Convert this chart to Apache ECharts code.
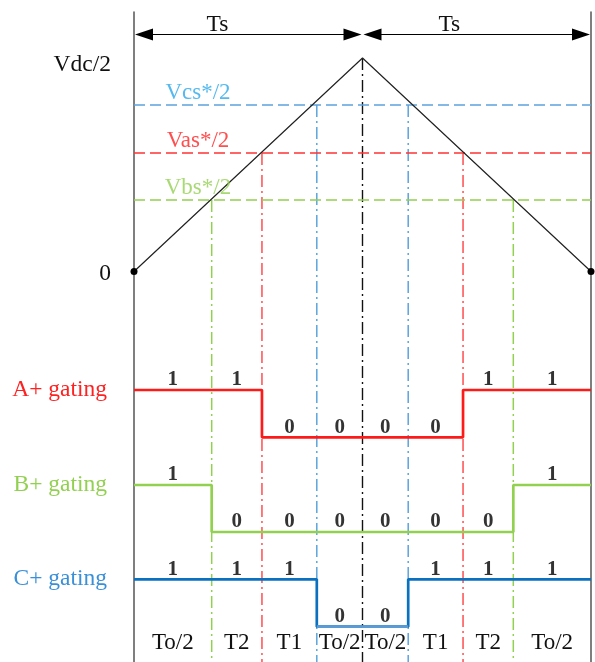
<!DOCTYPE html>
<html>
<head>
<meta charset="utf-8">
<script src="https://cdn.jsdelivr.net/npm/echarts@6/dist/echarts.min.js"></script>
<style>html,body{margin:0;padding:0;background:#fff}#c{width:595px;height:662px}</style>
</head>
<body>
<div id="c"></div>
<script>
// ---- data ----
const triX = [0, 1, 2];                 // carrier triangle time points (units of Ts)
const triY = [0, 1, 0];                 // carrier amplitude (units of Vdc/2)
const refNames = ['Vcs*/2', 'Vas*/2', 'Vbs*/2'];
const refValues = [0.78, 0.555, 0.335];
const crossLeft = [0.80, 0.56, 0.34];   // C, A, B crossing times (rising)
const crossRight = [1.20, 1.44, 1.66];  // C, A, B crossing times (falling)
const edges = [0, 0.34, 0.56, 0.80, 1.00, 1.20, 1.44, 1.66, 2];
const intervalLabels = ['To/2', 'T2', 'T1', 'To/2', 'To/2', 'T1', 'T2', 'To/2'];
const gateA = [1, 1, 0, 0, 0, 0, 1, 1];
const gateB = [1, 0, 0, 0, 0, 0, 0, 1];
const gateC = [1, 1, 1, 0, 0, 1, 1, 1];
const periodSpans = [[0, 1], [1, 2]];
const periodLabel = 'Ts';
const gateNames = ['A+ gating', 'B+ gating', 'C+ gating'];

// ---- layout helpers ----
const TOP = 12, H = 650;
function range(v0, p0, v1, p1) {
  const s = (p0 - p1) / (v1 - v0);
  const max = v1 + (p1 - TOP) / s;
  return { min: max - H / s, max: max };
}
const triR = range(0, 271.5, 1, 58);
const aR = range(0, 437.3, 1, 390);
const bR = range(0, 532, 1, 485);
const cR = range(0, 626.7, 1, 579.3);

const FONT = 'Liberation Serif';
const RED = '#ff1a1a', GREEN = '#92d050', BLUE = '#5ba3dc', CBLUE = '#0a70c0';
const refColors = [BLUE, '#ff3333', GREEN];
const refTextColors = ['#2aa8ea', '#ff2222', '#92d050'];
const phaseColors = [BLUE, '#ff4d4d', GREEN];

const centers = intervalLabels.map((_, i) => (edges[i] + edges[i + 1]) / 2);

function stepData(g) {
  const d = [];
  g.forEach((v, i) => { d.push([edges[i], v]); d.push([edges[i + 1], v]); });
  return d;
}
function lowData(g) {
  const d = [];
  g.forEach((v, i) => {
    if (v === 0) { d.push([edges[i], 0]); d.push([edges[i + 1], 0]); }
    else if (d.length && d[d.length - 1] !== null) d.push(null);
  });
  return d;
}

const series = [];
// vertical dash-dot lines
crossLeft.concat(crossRight).forEach((t, k) => {
  const idx = k % 3;
  series.push({
    type: 'line', yAxisIndex: 0, symbol: 'none', silent: true, z: 1,
    data: [[t, refValues[idx]], [t, triR.min]],
    lineStyle: { color: phaseColors[idx], width: 1.5, type: [12, 4, 2, 4] }
  });
});
series.push({
  type: 'line', yAxisIndex: 0, symbol: 'none', silent: true, z: 1,
  data: [[triX[1], triY[1]], [triX[1], triR.min]],
  lineStyle: { color: '#111', width: 1.4, type: [12, 4, 2, 4] }
});
// horizontal reference dashed lines + labels
refValues.forEach((v, i) => {
  series.push({
    type: 'line', yAxisIndex: 0, symbol: 'none', silent: true, z: 2,
    data: [[0, v], [2, v]],
    lineStyle: { color: refColors[i], width: 1.6, type: [11, 5] }
  });
  series.push({
    type: 'scatter', yAxisIndex: 0, symbolSize: 0, silent: true, z: 5,
    data: [[0.28, v]],
    label: { show: true, position: 'top', distance: 1, formatter: refNames[i],
      fontFamily: FONT, fontSize: 23, color: refTextColors[i] }
  });
});
// carrier triangle
series.push({
  type: 'line', yAxisIndex: 0, z: 3, silent: true,
  data: triX.map((x, i) => ({ value: [x, triY[i]], symbol: i === 1 ? 'none' : 'circle' })),
  symbolSize: 7, showSymbol: true,
  itemStyle: { color: '#000' },
  lineStyle: { color: '#222', width: 1.2 }
});
// gating signals
const gates = [gateA, gateB, gateC];
const gateColors = [RED, GREEN, CBLUE];
gates.forEach((g, k) => {
  series.push({
    type: 'line', yAxisIndex: k + 1, symbol: 'none', silent: true, z: 4,
    data: stepData(g),
    lineStyle: { color: gateColors[k], width: 2.7 }
  });
  series.push({
    type: 'scatter', yAxisIndex: k + 1, symbolSize: 0, silent: true, z: 6,
    data: g.map((v, i) => [centers[i], v]),
    label: { show: true, position: 'top', distance: 0, lineHeight: 20,
      formatter: p => String(p.value[1]),
      fontFamily: FONT, fontSize: 21, fontWeight: 'bold', color: '#000' }
  });
});
series.push({
  type: 'line', yAxisIndex: 3, symbol: 'none', silent: true, z: 5,
  data: lowData(gateC), connectNulls: false,
  lineStyle: { color: '#5b9bd5', width: 2.7 }
});
// Ts arrows
const arrowLevel = 1.112;
series.push({
  type: 'custom', yAxisIndex: 0, silent: true, z: 7,
  data: periodSpans,
  renderItem: function (params, api) {
    const p0 = api.coord([api.value(0), arrowLevel]);
    const p1 = api.coord([api.value(1), arrowLevel]);
    const L = 18, W = 6, g = 1;
    const y = Math.round(p0[1]) + 0.5;
    const a = p0[0] + g, b = p1[0] - g;
    return { type: 'group', children: [
      { type: 'line', shape: { x1: a + L - 2, y1: y, x2: b - L + 2, y2: y }, style: { stroke: '#000', lineWidth: 1.2 } },
      { type: 'polygon', shape: { points: [[a, y], [a + L, y - W], [a + L, y + W]] }, style: { fill: '#000' } },
      { type: 'polygon', shape: { points: [[b, y], [b - L, y - W], [b - L, y + W]] }, style: { fill: '#000' } }
    ] };
  }
});

const gateAxis = (r, name, color) => ({
  type: 'value', position: 'left', min: r.min, max: r.max,
  axisLine: { show: false }, axisTick: { show: false }, splitLine: { show: false },
  axisLabel: { show: true, customValues: [1], margin: 27, formatter: () => name,
    fontFamily: FONT, fontSize: 23.5, color: color }
});

const option = {
  animation: false,
  backgroundColor: '#fff',
  grid: { left: 134, right: 4, top: TOP, bottom: 0, containLabel: false },
  xAxis: [
    { type: 'value', min: 0, max: 2, position: 'bottom',
      axisLine: { show: false }, axisTick: { show: false }, splitLine: { show: false },
      axisLabel: { show: true, inside: true, margin: 8, customValues: centers,
        formatter: v => { const i = centers.findIndex(c => Math.abs(c - v) < 1e-6); return i >= 0 ? intervalLabels[i] : ''; },
        fontFamily: FONT, fontSize: 23, color: '#111' } },
    { type: 'value', min: 0, max: 2, position: 'top',
      axisLine: { show: false }, axisTick: { show: false }, splitLine: { show: false },
      axisLabel: { show: true, inside: true, margin: 1, customValues: [0.365, 1.38],
        formatter: () => periodLabel, fontFamily: FONT, fontSize: 23.5, color: '#111' } }
  ],
  yAxis: [
    { type: 'value', position: 'left', min: triR.min, max: triR.max,
      axisLine: { show: true, lineStyle: { color: '#555', width: 1.5 } },
      axisTick: { show: false }, splitLine: { show: false },
      axisLabel: { show: true, customValues: [0, 1], margin: 23,
        formatter: v => v === 1 ? '{a|Vdc/2}' : '{b|0}',
        rich: { a: { fontFamily: FONT, fontSize: 23.5, color: '#111', padding: [14, 0, 0, 0] },
                b: { fontFamily: FONT, fontSize: 23.5, color: '#111', padding: [4, 0, 0, 0] } } } },
    gateAxis(aR, gateNames[0], '#ff2020'),
    gateAxis(bR, gateNames[1], '#92d050'),
    gateAxis(cR, gateNames[2], '#3a90d8'),
    { type: 'value', position: 'right', min: 0, max: 1,
      axisLine: { show: true, lineStyle: { color: '#555', width: 1.5 } },
      axisTick: { show: false }, splitLine: { show: false }, axisLabel: { show: false } }
  ],
  series: series
};

const chart = echarts.init(document.getElementById('c'), null, { renderer: 'canvas' });
chart.setOption(option);
</script>
</body>
</html>
